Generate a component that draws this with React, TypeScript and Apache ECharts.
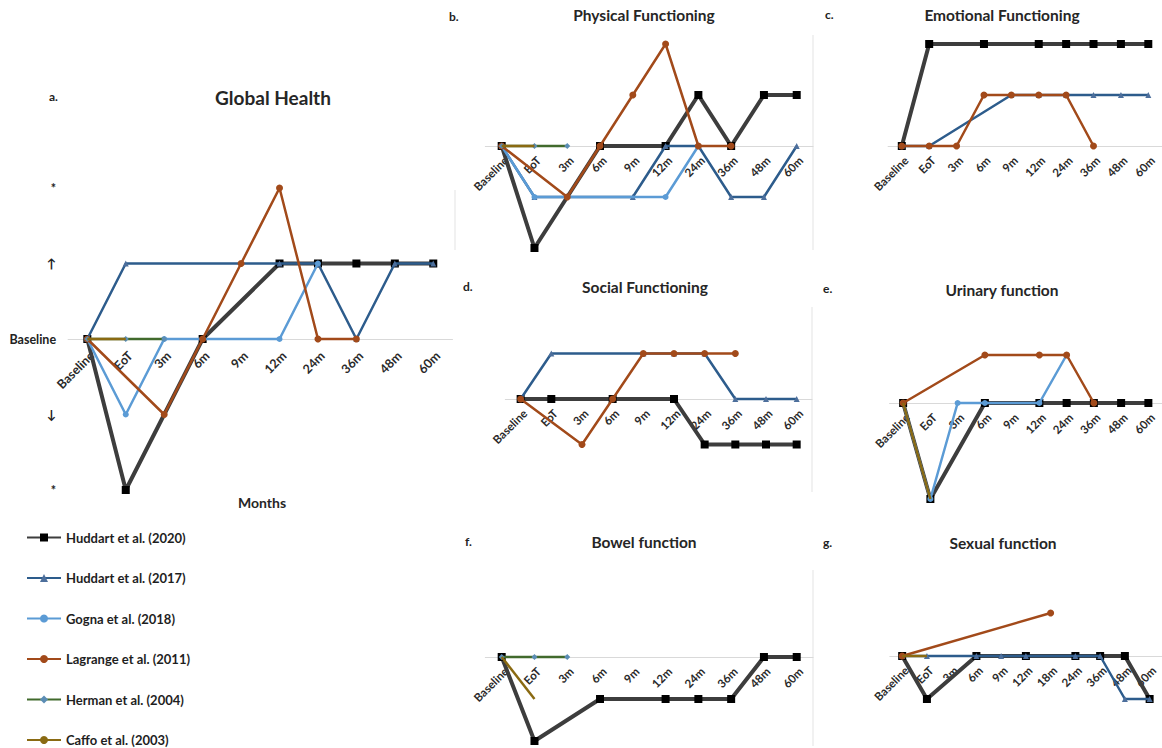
import React, { useEffect, useRef } from 'react';
import * as echarts from 'echarts';

// ---------- categories ----------
const cats10 = ['Baseline', 'EoT', '3m', '6m', '9m', '12m', '24m', '36m', '48m', '60m'];
const cats11 = ['Baseline', 'EoT', '3m', '6m', '9m', '12m', '18m', '24m', '36m', '48m', '60m'];

// y levels: -2 '*', -1 '↓', 0 'Baseline', 1 '↑', 2 '*'
const yLevelLabels: Record<string, string> = { '-2': '*', '-1': '↓', '0': 'Baseline', '1': '↑', '2': '*' };

const studies = [
  'Huddart et al. (2020)',
  'Huddart et al. (2017)',
  'Gogna et al. (2018)',
  'Lagrange et al. (2011)',
  'Herman et al. (2004)',
  'Caffo et al. (2003)',
];

// ---------- a. Global Health ----------
const ghHuddart2020 = [0, -2, null, 0, null, 1, 1, 1, 1, 1];
const ghHuddart2017 = [0, 1, null, null, null, 1, 1, 0, 1, 1];
const ghGogna = [0, -1, 0, null, null, 0, 1];
const ghLagrange = [0, null, -1, 0, 1, 2, 0, 0];
const ghHerman = [0, 0, 0];
const ghCaffo = [0, 0];

// ---------- b. Physical Functioning ----------
const pfHuddart2020 = [0, -2, null, 0, null, 0, 1, 0, 1, 1];
const pfHuddart2017 = [0, -1, null, null, -1, 0, 0, -1, -1, 0];
const pfGogna = [0, -1, null, null, null, -1, 0];
const pfLagrange = [0, null, -1, 0, 1, 2, 0, 0];
const pfHerman = [0, 0, 0];
const pfCaffo = [0, 0];

// ---------- c. Emotional Functioning ----------
const efHuddart2020 = [0, 2, null, 2, null, 2, 2, 2, 2, 2];
const efHuddart2017 = [0, 0, null, null, 1, 1, 1, 1, 1, 1];
const efLagrange = [0, 0, 0, 1, 1, 1, 1, 0];

// ---------- d. Social Functioning ----------
const sfHuddart2020 = [0, 0, null, 0, null, 0, -1, -1, -1, -1];
const sfHuddart2017 = [0, 1, null, null, 1, 1, 1, 0, 0, 0];
const sfLagrange = [0, null, -1, 0, 1, 1, 1, 1];

// ---------- e. Urinary function ----------
const ufHuddart2020 = [0, -2, null, 0, null, 0, 0, 0, 0, 0];
const ufGogna = [0, -2, 0, 0, null, 0, 1];
const ufLagrange = [0, null, null, 1, null, 1, 1, 0];
const ufCaffo = [0, -2];

// ---------- f. Bowel function ----------
const bfHuddart2020 = [0, -2, null, -1, null, -1, -1, -1, 0, 0];
const bfHerman = [0, 0, 0];
const bfCaffo = [0, -1];

// ---------- g. Sexual function ----------
const sxHuddart2020 = [0, -1, null, 0, null, 0, null, 0, 0, 0, -1];
const sxHuddart2017 = [0, 0, null, 0, 0, 0, null, 0, 0, -1, -1];
const sxLagrange = [0, null, null, null, null, null, 1];
const sxCaffo = [0, 0];

// ---------- styles ----------
const seriesStyle: Record<string, any> = {
  'Huddart et al. (2020)': { color: '#3d3d3d', width: 4, symbol: 'rect', size: 8, marker: '#000000' },
  'Huddart et al. (2017)': { color: '#2d5c8c', width: 2.5, symbol: 'triangle', size: 6, marker: '#4d6f9c' },
  'Gogna et al. (2018)': { color: '#5b9bd5', width: 2.5, symbol: 'circle', size: 6, marker: '#5b9bd5' },
  'Lagrange et al. (2011)': { color: '#a24a1a', width: 2.5, symbol: 'circle', size: 7, marker: '#a24a1a' },
  'Herman et al. (2004)': { color: '#416a2c', width: 2.5, symbol: 'diamond', size: 6, marker: '#5b8db5' },
  'Caffo et al. (2003)': { color: '#8a6a12', width: 2.5, symbol: 'none', size: 0, marker: '#8a6a12' },
};

const panels = [
  {
    letter: 'a.', title: 'Global Health', cats: cats10,
    grid: { left: 68.1, width: 384.4, top: 188, height: 302 },
    data: [ghHuddart2020, ghHuddart2017, ghGogna, ghLagrange, ghHerman, ghCaffo],
  },
  {
    letter: 'b.', title: 'Physical Functioning', cats: cats10,
    grid: { left: 485.3, width: 327.8, top: 44, height: 204 },
    data: [pfHuddart2020, pfHuddart2017, pfGogna, pfLagrange, pfHerman, pfCaffo],
  },
  {
    letter: 'c.', title: 'Emotional Functioning', cats: cats10,
    grid: { left: 888.1, width: 277.8, top: 44, height: 204 },
    data: [efHuddart2020, efHuddart2017, null, efLagrange, null, null],
  },
  {
    letter: 'd.', title: 'Social Functioning', cats: cats10,
    grid: { left: 505.3, width: 306.7, top: 308, height: 182 },
    data: [sfHuddart2020, sfHuddart2017, null, sfLagrange, null, null],
  },
  {
    letter: 'e.', title: 'Urinary function', cats: cats10,
    grid: { left: 889.5, width: 276, top: 307, height: 192 },
    data: [ufHuddart2020, null, ufGogna, ufLagrange, null, ufCaffo],
  },
  {
    letter: 'f.', title: 'Bowel function', cats: cats10,
    grid: { left: 485.3, width: 327.8, top: 573, height: 168 },
    data: [bfHuddart2020, null, null, null, bfHerman, bfCaffo],
  },
  {
    letter: 'g.', title: 'Sexual function', cats: cats11,
    grid: { left: 889.8, width: 274.3, top: 570, height: 172 },
    data: [sxHuddart2020, sxHuddart2017, null, sxLagrange, null, sxCaffo],
  },
];

const titleSpots = [
  { letter: [49, 90], title: [273, 88], size: 19, weight: 'bold' as const },
  { letter: [449, 10], title: [644, 7], size: 15.5, weight: 'bold' as const },
  { letter: [825, 8], title: [1002, 7], size: 15.5, weight: 'bold' as const },
  { letter: [463, 280], title: [645, 279], size: 15.5, weight: 'bold' as const },
  { letter: [823, 282], title: [1002, 282], size: 15.5, weight: 'bold' as const },
  { letter: [465, 535], title: [644, 534], size: 15.5, weight: 'bold' as const },
  { letter: [823, 536], title: [1003, 535], size: 15.5, weight: 'bold' as const },
];

const FONT = 'Lato, "Open Sans", sans-serif';

export default function App() {
  const ref = useRef<HTMLDivElement>(null);
  useEffect(() => {
    document.body.style.margin = '0';
    const chart = echarts.init(ref.current!, undefined, { renderer: 'svg' });

    const titles: any[] = [];
    panels.forEach((p, i) => {
      const t = titleSpots[i];
      titles.push({
        text: p.letter, left: t.letter[0], top: t.letter[1], padding: 0,
        textStyle: { fontFamily: FONT, fontSize: 12, fontWeight: 'bold', color: '#222' },
      });
      titles.push({
        text: p.title, left: t.title[0], top: t.title[1], padding: 0, textAlign: 'center',
        textStyle: { fontFamily: FONT, fontSize: t.size, fontWeight: t.weight, color: '#262626' },
      });
    });
    titles.push({
      text: 'Months', left: 262, top: 495, padding: 0, textAlign: 'center',
      textStyle: { fontFamily: FONT, fontSize: 14, fontWeight: 'bold', color: '#262626' },
    });

    const grids = panels.map((p) => ({ ...p.grid, containLabel: false }));
    // zero sits in the middle of each symmetric [-2, 2] range, so lift the axis by half the grid height
    const xAxes = panels.map((p, i) => ({
      type: 'category', gridIndex: i, data: p.cats, boundaryGap: true,
      position: 'bottom', offset: -p.grid.height / 2,
      axisLine: { show: true, onZero: false, lineStyle: { color: '#d9d9d9', width: 1 } },
      axisTick: { show: false },
      splitLine: { show: false },
      axisLabel: {
        interval: 0, rotate: 45, margin: i === 0 ? 10 : 8, hideOverlap: false,
        verticalAlign: 'top',
        fontFamily: FONT, fontWeight: 'bold', fontSize: i === 0 ? 12.5 : 11.5, color: '#2a2a2a',
      },
    }));
    const yAxes = panels.map((p, i) => ({
      type: 'value', gridIndex: i, min: -2, max: 2, interval: 1, show: i === 0,
      axisLine: { show: false }, axisTick: { show: false }, splitLine: { show: false },
      axisLabel: {
        margin: 12, fontFamily: FONT, fontWeight: 'bold', fontSize: 12.5, color: '#222',
        formatter: (v: number) => yLevelLabels[String(v)] ?? '',
      },
    }));

    const series: any[] = [];
    panels.forEach((p, i) => {
      p.data.forEach((d, k) => {
        if (!d) return;
        const name = studies[k];
        const s = seriesStyle[name];
        series.push({
          type: 'line', name, data: d, xAxisIndex: i, yAxisIndex: i,
          connectNulls: true, symbol: s.symbol, symbolSize: s.size, showSymbol: s.symbol !== 'none',
          lineStyle: { color: s.color, width: s.width },
          itemStyle: { color: s.marker, borderWidth: 0 },
          emphasis: { disabled: true },
          z: 2 + k,
        });
      });
    });

    const faint = '#e3e3e3';
    const graphic = [
      { type: 'line', shape: { x1: 813, y1: 35, x2: 813, y2: 250 }, style: { stroke: faint, lineWidth: 1 } },
      { type: 'line', shape: { x1: 455, y1: 190, x2: 455, y2: 250 }, style: { stroke: faint, lineWidth: 1 } },
      { type: 'line', shape: { x1: 812, y1: 307, x2: 812, y2: 492 }, style: { stroke: faint, lineWidth: 1 } },
      { type: 'line', shape: { x1: 813, y1: 570, x2: 813, y2: 746 }, style: { stroke: faint, lineWidth: 1 } },
    ];

    chart.setOption({
      animation: false,
      backgroundColor: '#ffffff',
      title: titles,
      grid: grids,
      xAxis: xAxes,
      yAxis: yAxes,
      series,
      graphic,
      legend: {
        data: studies, orient: 'vertical', left: 26, top: 531, padding: 0,
        itemWidth: 34, itemHeight: 10, itemGap: 27.5,
        textStyle: { fontFamily: FONT, fontWeight: 'bold', fontSize: 13, color: '#1e1e1e' },
        selectedMode: false,
      },
    });
    return () => chart.dispose();
  }, []);
  return <div ref={ref} style={{ width: 1162, height: 748 }} />;
}
